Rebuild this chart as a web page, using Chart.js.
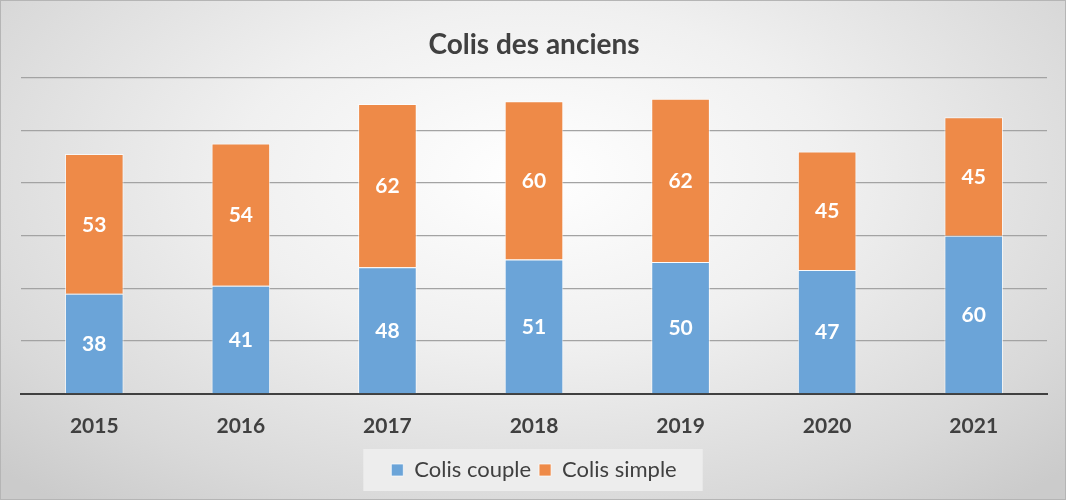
<!DOCTYPE html>
<html>
<head>
<meta charset="utf-8">
<script src="https://cdn.jsdelivr.net/npm/chart.js@4/dist/chart.umd.min.js"></script>
<style>
  html, body { margin: 0; padding: 0; }
  body { width: 1066px; height: 500px; overflow: hidden; }
  .cadre {
    position: relative;
    width: 1064px; height: 498px;
    border: 1px solid #b5b5b5;
    background: radial-gradient(ellipse 70% 85% at 50% 35%, #ffffff 0%, #f0f0f0 40%, #d9d9d9 80%, #cbcbcb 100%);
  }
  canvas { display: block; }
</style>
</head>
<body>
<div class="cadre">
  <canvas id="graphique" width="1064" height="498"></canvas>
</div>
<script>
const annees = ["2015", "2016", "2017", "2018", "2019", "2020", "2021"];
const colisCouple = [38, 41, 48, 51, 50, 47, 60];
const colisSimple = [53, 54, 62, 60, 62, 45, 45];
const graduations = [0, 20, 40, 60, 80, 100, 120];

const texteSombre = "#404040";
const police = "Lato, 'Open Sans', sans-serif";

// étiquettes blanches au centre de chaque segment
const etiquettesPlugin = {
    id: "etiquettes",
    afterDatasetsDraw(chart) {
        const ctx = chart.ctx;
        ctx.save();
        ctx.fillStyle = "#ffffff";
        ctx.font = "bold 21px " + police;
        ctx.textAlign = "center";
        ctx.textBaseline = "middle";
        chart.data.datasets.forEach((ds, i) => {
            chart.getDatasetMeta(i).data.forEach((bar, j) => {
                const p = bar.getProps(["x", "y", "base"], true);
                ctx.fillText(String(ds.data[j]), p.x, (p.y + p.base) / 2 + 1);
            });
        });
        ctx.restore();
    }
};

// fond clair derrière les entrées de la légende seulement
const fondLegendePlugin = {
    id: "fondLegende",
    beforeDraw(chart) {
        const lg = chart.legend;
        if (!lg || !lg.legendHitBoxes || !lg.legendHitBoxes.length) return;
        const boxes = lg.legendHitBoxes;
        const x0 = Math.min(...boxes.map(b => b.left)) - 28;
        const x1 = Math.max(...boxes.map(b => b.left + b.width)) + 26;
        const y0 = Math.min(...boxes.map(b => b.top)) - 10;
        const y1 = Math.max(...boxes.map(b => b.top + b.height)) + 10;
        const ctx = chart.ctx;
        ctx.save();
        ctx.fillStyle = "rgba(238, 238, 238, 0.9)";
        ctx.fillRect(x0, y0, x1 - x0, y1 - y0);
        ctx.restore();
    }
};

new Chart(document.getElementById("graphique"), {
    type: "bar",
    data: {
        labels: annees,
        datasets: [{
            label: "Colis couple",
            data: colisCouple,
            backgroundColor: "#6ba4d8",
            borderColor: "rgba(255,255,255,0.7)",
            borderWidth: 1,
            borderSkipped: "bottom",
            barPercentage: 0.8,
            categoryPercentage: 0.5
        }, {
            label: "Colis simple",
            data: colisSimple,
            backgroundColor: "#ee8a48",
            borderColor: "rgba(255,255,255,0.7)",
            borderWidth: 1,
            borderSkipped: "bottom",
            barPercentage: 0.8,
            categoryPercentage: 0.5
        }]
    },
    options: {
        responsive: false,
        animation: false,
        layout: { padding: { left: 20, right: 18, top: 10, bottom: 8 } },
        scales: {
            x: {
                stacked: true,
                grid: { display: false },
                border: { color: texteSombre, width: 2 },
                ticks: {
                    color: texteSombre,
                    padding: 12,
                    font: { family: police, size: 21, weight: "bold" }
                }
            },
            y: {
                stacked: true,
                min: graduations[0],
                max: graduations[graduations.length - 1],
                afterBuildTicks(axis) {
                    axis.ticks = graduations.map(v => ({ value: v }));
                },
                ticks: { display: false },
                border: { display: false },
                grid: {
                    color: "#a3a3a3",
                    lineWidth: 1.2,
                    drawTicks: false
                }
            }
        },
        plugins: {
            title: {
                display: true,
                text: "Colis des anciens",
                color: texteSombre,
                font: { family: police, size: 28, weight: "bold" },
                padding: { top: 17, bottom: 16 }
            },
            legend: {
                position: "bottom",
                labels: {
                    color: texteSombre,
                    boxWidth: 12,
                    boxHeight: 12,
                    padding: 8,
                    font: { family: police, size: 22 }
                }
            },
            tooltip: { enabled: false }
        }
    },
    plugins: [etiquettesPlugin, fondLegendePlugin]
});
</script>
</body>
</html>
